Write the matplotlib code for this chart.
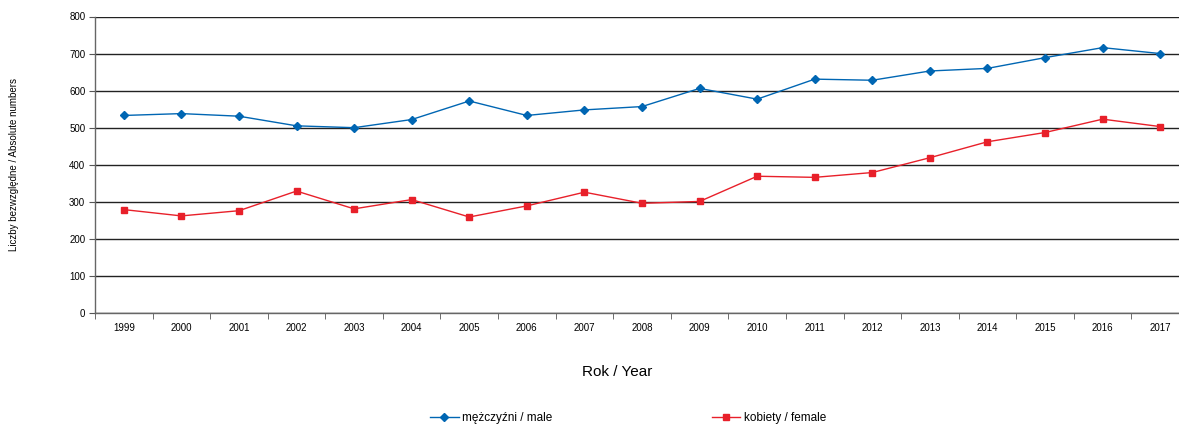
import matplotlib
matplotlib.use("Agg")
import matplotlib.pyplot as plt
from matplotlib.lines import Line2D

plt.rcParams['font.family'] = ['Liberation Sans', 'DejaVu Sans']

years = [str(y) for y in range(1999, 2018)]
male = [533, 538, 531, 505, 500, 522, 572, 533, 548, 557, 606, 577, 631, 628, 653, 660, 689, 716, 700]
female = [279, 262, 276, 329, 281, 306, 259, 289, 326, 296, 301, 369, 366, 379, 419, 462, 487, 523, 503]
yticks = [0, 100, 200, 300, 400, 500, 600, 700, 800]

male_color = '#0066B3'
female_color = '#E8202A'

W, H = 1179, 426
fig = plt.figure(figsize=(W / 100, H / 100), dpi=100)
ax = fig.add_axes([95 / W, 1 - 313 / H, (1189 - 95) / W, (313 - 16.5) / H])

x = list(range(len(years)))
ax.plot(x, male, color=male_color, lw=1.0, marker='D', ms=4, label='mężczyźni / male')
ax.plot(x, female, color=female_color, lw=1.0, marker='s', ms=5, label='kobiety / female')

ax.set_xlim(-0.5, len(years) - 0.5)
ax.set_ylim(0, 800)
ax.set_yticks(yticks)
ax.set_yticklabels([str(v) for v in yticks], fontsize=7)
ax.set_xticks(x)
ax.set_xticklabels(years, fontsize=7)
ax.tick_params(axis='x', which='major', length=0, pad=7)
ax.set_xticks([i + 0.5 for i in range(-1, len(years))], minor=True)
ax.tick_params(axis='x', which='minor', length=4, color='#555555', direction='out')
ax.tick_params(axis='y', length=4, color='#555555', direction='out', pad=3)

ax.grid(axis='y', color='#222222', lw=1.0)
ax.set_axisbelow(True)
for s in ['top', 'right']:
    ax.spines[s].set_visible(False)
for s in ['left', 'bottom']:
    ax.spines[s].set_color('#666666')
    ax.spines[s].set_linewidth(1.0)

fig.text(14 / W, 1 - 165 / H, 'Liczby bezwzględne / Absolute numbers', rotation=90,
         ha='center', va='center', fontsize=7)
fig.text(617 / W, 1 - 372 / H, 'Rok / Year', ha='center', va='center', fontsize=11)

handles = [
    Line2D([], [], color=male_color, lw=1.0, marker='D', ms=4),
    Line2D([], [], color=female_color, lw=1.0, marker='s', ms=5),
]
fig.legend(handles, ['mężczyźni / male', 'kobiety / female'], ncol=2,
           loc='center', bbox_to_anchor=(628 / W, 1 - 418 / H), frameon=False,
           fontsize=8.5, handlelength=2.4, handletextpad=0.3, columnspacing=13.5,
           borderpad=0)

fig.savefig('out.png', dpi=100)
